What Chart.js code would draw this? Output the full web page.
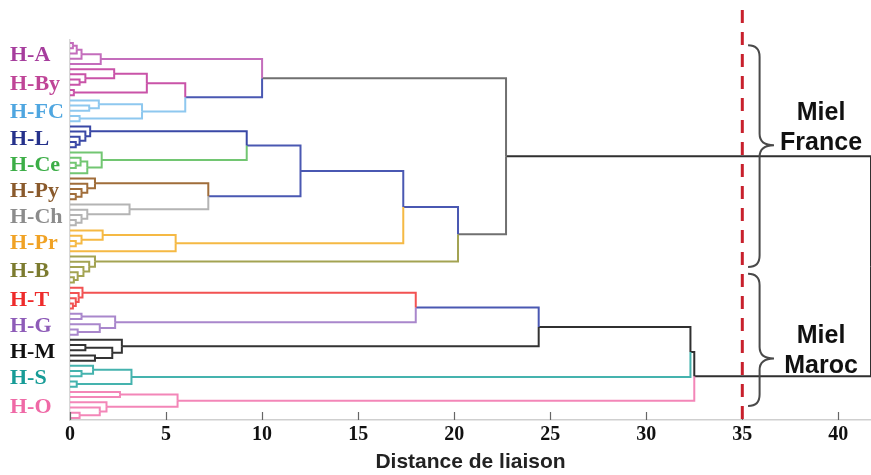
<!DOCTYPE html>
<html>
<head>
<meta charset="utf-8">
<script src="https://cdn.jsdelivr.net/npm/chart.js@4.4.1/dist/chart.umd.min.js"></script>
<style>
    html, body { margin: 0; padding: 0; background: #fff; }
    #wrap { width: 871px; height: 475px; }
</style>
</head>
<body>
<div id="wrap"><canvas id="dendro" width="871" height="475"></canvas></div>
<script>
// honey groups, top to bottom
const groups = ['H-A', 'H-By', 'H-FC', 'H-L', 'H-Ce', 'H-Py', 'H-Ch', 'H-Pr', 'H-B', 'H-T', 'H-G', 'H-M', 'H-S', 'H-O'];

// samples inside each group: [left, right, distance], 0 = one sample
const treeA  = [[[[0, 0, 0.15], 0, 0.35], 0, 0.6], 0, 1.6];
const treeBy = [[0, [0, [0, 0, 0.5], 0.8], 2.3], [0, 0, 0.2], 4.0];
const treeFC = [[0, [0, 0, 1.0], 1.5], [0, 0, 0.5], 3.75];
const treeL  = [0, [0, [0, [0, 0, 0.3], 0.5], 0.8], 1.05];
const treeCe = [0, [[0, [0, 0, 0.3], 0.55], 0, 0.9], 1.65];
const treePy = [0, [0, [0, [0, 0, 0.3], 0.6], 0.9], 1.3];
const treeCh = [0, [0, [0, [0, 0, 0.3], 0.6], 0.9], 3.1];
const treePr = [[0, [0, [0, 0, 0.3], 0.6], 1.7], 0, 5.5];
const treeB  = [0, [0, [0, [0, [0, 0, 0.2], 0.4], 0.7], 1.0], 1.3];
const treeT  = [0, [0, [0, [0, 0, 0.15], 0.3], 0.45], 0.65];
const treeG  = [[0, 0, 0.6], [0, [0, 0, 0.4], 1.55], 2.35];
const treeM  = [0, [[0, 0, 0.8], [0, 0, 1.3], 2.2], 2.7];
const treeS  = [[0, [0, 0, 0.6], 1.2], [0, 0, 0.35], 3.2];
const treeO  = [[0, 0, 2.6], [0, [0, [0, 0, 0.5], 1.55], 1.9], 5.6];
const groupTrees = [treeA, treeBy, treeFC, treeL, treeCe, treePy, treeCh, treePr, treeB, treeT, treeG, treeM, treeS, treeO];

// how the groups join together
const franceTree = [['H-A', ['H-By', 'H-FC', 6.0], 10.0],
                    [[[['H-L', 'H-Ce', 9.2], ['H-Py', 'H-Ch', 7.2], 12.0], 'H-Pr', 17.35], 'H-B', 20.2], 22.7];
const marocTree = [[[['H-T', 'H-G', 18.0], 'H-M', 24.4], 'H-S', 32.3], 'H-O', 32.5];
const rootDistance = 41.7;

const xTicks = [0, 5, 10, 15, 20, 25, 30, 35, 40];
const cutDistance = 35;
const regionNames = [['Miel', 'France'], ['Miel', 'Maroc']];

// ---- styles ----
const labelColors = ['#a63d9d', '#bf4597', '#4fa6e0', '#25318b', '#3cae47', '#8a5a2c', '#8c8c8c',
                     '#f0a225', '#7c7b2f', '#ee2b2b', '#8e5cb8', '#111111', '#179c97', '#ef69a6'];
const lineColors = ['#c46dbc', '#c953a8', '#8ec8ef', '#3a48a6', '#72c672', '#a06d3a', '#b4b4b4',
                    '#f5b944', '#a3a352', '#f25252', '#a987cc', '#333333', '#45b3ae', '#f386b8'];
const BLUE = '#4a58b2', GREY = '#707070', BLACK = '#303030';
const upperColors = { '6': BLUE, '10': GREY, '9.2': BLUE, '7.2': BLUE, '12': BLUE, '17.35': BLUE,
                      '20.2': GREY, '22.7': BLACK, '18': BLUE, '24.4': BLACK, '32.3': BLACK, '32.5': BLACK };
// brace: [top, tip, bottom] in sample rows, and the x spots in distance units
const braceRows = [[0.4, 19.6, 43], [44.3, 60.6, 69.7]];
const braceX = [35.3, 35.9, 36.65];
const regionTextRow = [16.3, 59.1];
const regionTextX = 39.1;

// ---- walk the trees ----
const links = [];
const groupCenters = [];
let leafCount = 0;

function addLink(child, parent, color) {
    links.push({
        data: [{ x: child.x, y: child.y }, { x: parent.x, y: child.y }, { x: parent.x, y: parent.y }],
        color: color
    });
}

function placeGroup(tree, color) {
    if (tree === 0)
        return { x: 0, y: leafCount++ };
    const a = placeGroup(tree[0], color);
    const b = placeGroup(tree[1], color);
    const p = { x: tree[2], y: (a.y + b.y) / 2 };
    addLink(a, p, color);
    addLink(b, p, color);
    return p;
}

function placeUpper(node) {
    if (typeof node === 'string') {
        const gi = groups.indexOf(node);
        const first = leafCount;
        const p = placeGroup(groupTrees[gi], lineColors[gi]);
        groupCenters[gi] = (first + leafCount - 1) / 2;
        p.color = lineColors[gi];
        return p;
    }
    const a = placeUpper(node[0]);
    const b = placeUpper(node[1]);
    const p = { x: node[2], y: (a.y + b.y) / 2, color: upperColors[String(node[2])] };
    addLink(a, p, a.color);
    addLink(b, p, b.color);
    return p;
}

const france = placeUpper(franceTree);
const maroc = placeUpper(marocTree);
const root = { x: rootDistance, y: (france.y + maroc.y) / 2 };
addLink(france, root, BLACK);
addLink(maroc, root, BLACK);

const datasets = links.map(l => ({
    data: l.data,
    showLine: true,
    borderColor: l.color,
    borderWidth: 2,
    pointRadius: 0,
    fill: false
}));

// ---- extra drawing: tick marks, cut line, braces ----
function drawBrace(ctx, xL, xV, xT, top, tip, bottom) {
    const r = xV - xL;
    ctx.beginPath();
    ctx.moveTo(xL, top);
    ctx.quadraticCurveTo(xV, top, xV, top + r);
    ctx.lineTo(xV, tip - r);
    ctx.quadraticCurveTo(xV, tip, xT, tip);
    ctx.quadraticCurveTo(xV, tip, xV, tip + r);
    ctx.lineTo(xV, bottom - r);
    ctx.quadraticCurveTo(xV, bottom, xL, bottom);
    ctx.stroke();
}

const extras = {
    id: 'extras',
    afterDraw(chart) {
        const ctx = chart.ctx;
        const xs = chart.scales.x, ys = chart.scales.y;
        const area = chart.chartArea;
        ctx.save();

        // inside tick marks
        ctx.strokeStyle = '#666';
        ctx.lineWidth = 1.2;
        xTicks.forEach(t => {
            const px = Math.round(xs.getPixelForValue(t)) + 0.5;
            ctx.beginPath();
            ctx.moveTo(px, area.bottom);
            ctx.lineTo(px, area.bottom - 8);
            ctx.stroke();
        });

        // cut line
        const cx = xs.getPixelForValue(cutDistance);
        ctx.strokeStyle = '#c8202c';
        ctx.lineWidth = 3;
        ctx.setLineDash([13, 9]);
        ctx.beginPath();
        ctx.moveTo(cx, 10);
        ctx.lineTo(cx, area.bottom);
        ctx.stroke();
        ctx.setLineDash([]);

        // braces and region names
        ctx.strokeStyle = '#4a4a4a';
        ctx.lineWidth = 2;
        braceRows.forEach((b, i) => {
            drawBrace(ctx, xs.getPixelForValue(braceX[0]), xs.getPixelForValue(braceX[1]),
                xs.getPixelForValue(braceX[2]),
                ys.getPixelForValue(b[0]), ys.getPixelForValue(b[1]), ys.getPixelForValue(b[2]));

            const tx = xs.getPixelForValue(regionTextX);
            const ty = ys.getPixelForValue(regionTextRow[i]);
            ctx.fillStyle = '#111';
            ctx.font = 'bold 25px "Liberation Sans", Arial, sans-serif';
            ctx.textAlign = 'center';
            ctx.textBaseline = 'middle';
            ctx.fillText(regionNames[i][0], tx, ty - 15);
            ctx.fillText(regionNames[i][1], tx, ty + 15);
        });
        ctx.restore();
    }
};

new Chart(document.getElementById('dendro'), {
    type: 'scatter',
    data: { datasets: datasets },
    options: {
        responsive: false,
        animation: false,
        layout: { padding: { left: 10, top: 40, right: 0, bottom: 0 } },
        plugins: {
            legend: { display: false },
            tooltip: { enabled: false }
        },
        scales: {
            x: {
                type: 'linear',
                min: 0,
                max: rootDistance,
                grid: { display: false, drawTicks: false },
                border: { display: true, color: '#cfcfcf', width: 1.5 },
                ticks: {
                    stepSize: 5,
                    includeBounds: false,
                    padding: 3,
                    color: '#111',
                    font: { family: '"Liberation Serif", "Times New Roman", serif', weight: 'bold', size: 20 }
                },
                title: {
                    display: true,
                    text: 'Distance de liaison',
                    color: '#222',
                    padding: 0,
                    font: { family: '"Liberation Sans", Arial, sans-serif', weight: 'bold', size: 21 }
                },
                afterFit: (scale) => { scale.height = 55; }
            },
            y: {
                type: 'linear',
                reverse: true,
                min: -0.6,
                max: leafCount - 1 + 0.4,
                grid: { display: false, drawTicks: false },
                border: { display: true, color: '#d8d8d8', width: 1.5 },
                afterBuildTicks: (scale) => {
                    scale.ticks = groupCenters.map(v => ({ value: v }));
                },
                ticks: {
                    crossAlign: 'far',
                    autoSkip: false,
                    labelOffset: 2,
                    callback: (value, index) => groups[index],
                    color: (c) => labelColors[c.index],
                    font: { family: '"Liberation Serif", "Times New Roman", serif', weight: 'bold', size: 22 }
                },
                afterFit: (scale) => { scale.width = 60; }
            }
        }
    },
    plugins: [extras]
});
</script>
</body>
</html>
